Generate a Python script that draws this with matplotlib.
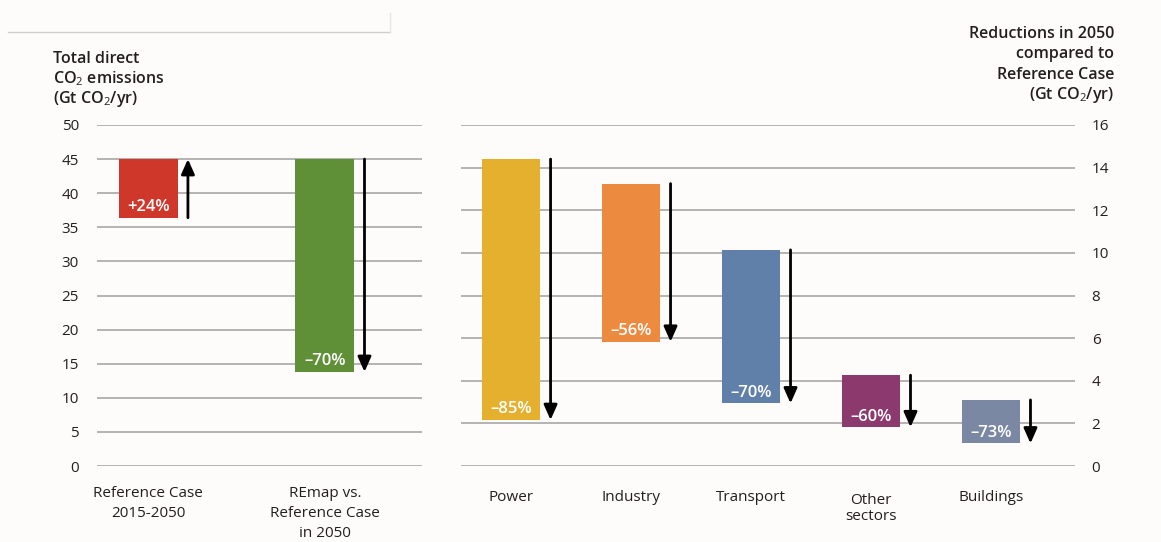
import matplotlib
matplotlib.use("Agg")
import matplotlib.pyplot as plt
from matplotlib.transforms import blended_transform_factory
from matplotlib.lines import Line2D

FONT = "Open Sans"
plt.rcParams['font.family'] = [FONT, 'DejaVu Sans']
plt.rcParams['mathtext.fontset'] = 'custom'
plt.rcParams['mathtext.rm'] = FONT
plt.rcParams['mathtext.it'] = FONT + ':italic'
plt.rcParams['mathtext.bf'] = FONT + ':bold'

# ---- data ----
left_categories = ["Reference Case\n2015-2050", "REmap vs.\nReference Case\nin 2050"]
left_top = [45.0, 45.0]
left_bottom = [36.4, 13.8]
left_labels = ["+24%", "–70%"]
left_colors = ["#d0372b", "#5f8f37"]
left_arrow_up = [True, False]

right_categories = ["Power", "Industry", "Transport", "Other\nsectors", "Buildings"]
right_top = [14.4, 13.25, 10.14, 4.26, 3.10]
right_bottom = [2.16, 5.83, 2.94, 1.82, 1.06]
right_labels = ["–85%", "–56%", "–70%", "–60%", "–73%"]
right_colors = ["#e4b02e", "#ec8a3f", "#607fa9", "#8c3a6e", "#7b88a3"]

left_ticks = [0, 5, 10, 15, 20, 25, 30, 35, 40, 45, 50]
right_ticks = [0, 2, 4, 6, 8, 10, 12, 14, 16]

left_title = ["Total direct", "CO$_2$ emissions", "(Gt CO$_2$/yr)"]
right_title = ["Reductions in 2050", "compared to", "Reference Case", "(Gt CO$_2$/yr)"]

W, H = 1161, 542
fig = plt.figure(figsize=(W / 100, H / 100), dpi=100)
fig.patch.set_facecolor("#fdfcfb")

GRID = "#b4b4b4"
TXT = "#231f20"
FS = 11


def fy(px):
    return 1 - px / H


def style_axes(ax, ticks):
    for s in ax.spines.values():
        s.set_visible(False)
    ax.set_facecolor("none")
    ax.set_yticks(ticks)
    for t in ticks:
        ax.axhline(t, color=GRID, lw=1.4, zorder=0)
    ax.tick_params(axis='y', length=0, labelsize=FS, colors=TXT)
    ax.set_xticks([])


def draw_bars(ax, cats, tops, bottoms, labels, colors, ups, width, arrow_off, lab_pad):
    xs = list(range(len(cats)))
    heights = [t - b for t, b in zip(tops, bottoms)]
    ax.bar(xs, heights, bottom=bottoms, width=width, color=colors, zorder=2, linewidth=0)
    for x, t, b, lab, up in zip(xs, tops, bottoms, labels, ups):
        ax.text(x, b + lab_pad, lab, ha='center', va='center', color='white',
                fontsize=FS + 1, fontweight=600, zorder=3)
        start, end = (b, t) if up else (t, b)
        ax.annotate("", xy=(x + arrow_off, end), xytext=(x + arrow_off, start),
                    arrowprops=dict(arrowstyle="-|>,head_length=0.9,head_width=0.4",
                                    color="black", lw=2.0, shrinkA=0, shrinkB=0),
                    zorder=4)


def cat_labels(ax, cats, first_baselines, spacings):
    tr = blended_transform_factory(ax.transData, fig.transFigure)
    for x, (cat, b0, sp) in enumerate(zip(cats, first_baselines, spacings)):
        for i, line in enumerate(cat.split("\n")):
            ax.text(x, fy(b0 + i * sp), line, transform=tr, ha='center', va='baseline',
                    fontsize=FS, color=TXT)


# left axes
axL = fig.add_axes([97 / W, (H - 466) / H, (421.7 - 97) / W, 341 / H])
style_axes(axL, left_ticks)
axL.set_ylim(0, 50)
axL.set_xlim(-0.29, 1.549)
axL.tick_params(axis='y', pad=13)
draw_bars(axL, left_categories, left_top, left_bottom, left_labels, left_colors,
          left_arrow_up, 0.334, 0.225, 1.6)
cat_labels(axL, left_categories, [497, 497], [20, 20])

# right axes
axR = fig.add_axes([460.7 / W, (H - 466) / H, (1075 - 460.7) / W, 341 / H])
style_axes(axR, right_ticks)
axR.set_ylim(0, 16)
axR.set_xlim(-0.42, 4.70)
axR.yaxis.tick_right()
axR.tick_params(axis='y', pad=12)
draw_bars(axR, right_categories, right_top, right_bottom, right_labels, right_colors,
          [False] * 5, 0.49, 0.329, 0.5)
cat_labels(axR, right_categories, [501, 501, 501, 504, 501], [16, 16, 16, 16, 16])

# titles
for i, line in enumerate(left_title):
    fig.text(53 / W, fy(63 + i * 20), line, ha='left', va='baseline',
             fontsize=FS + 0.5, fontweight=600, color=TXT)
for i, line in enumerate(right_title):
    fig.text(1114 / W, fy(38 + i * 20.3), line, ha='right', va='baseline',
             fontsize=FS + 0.5, fontweight=600, color=TXT)

# top decorative line
fig.add_artist(Line2D([8 / W, 390 / W], [fy(32), fy(32)], color="#cfcfcf", lw=1.0))
fig.add_artist(Line2D([390 / W, 390 / W], [fy(13), fy(32)], color="#e6e6e6", lw=1.0))

fig.savefig("out.png", dpi=100, facecolor=fig.get_facecolor())
